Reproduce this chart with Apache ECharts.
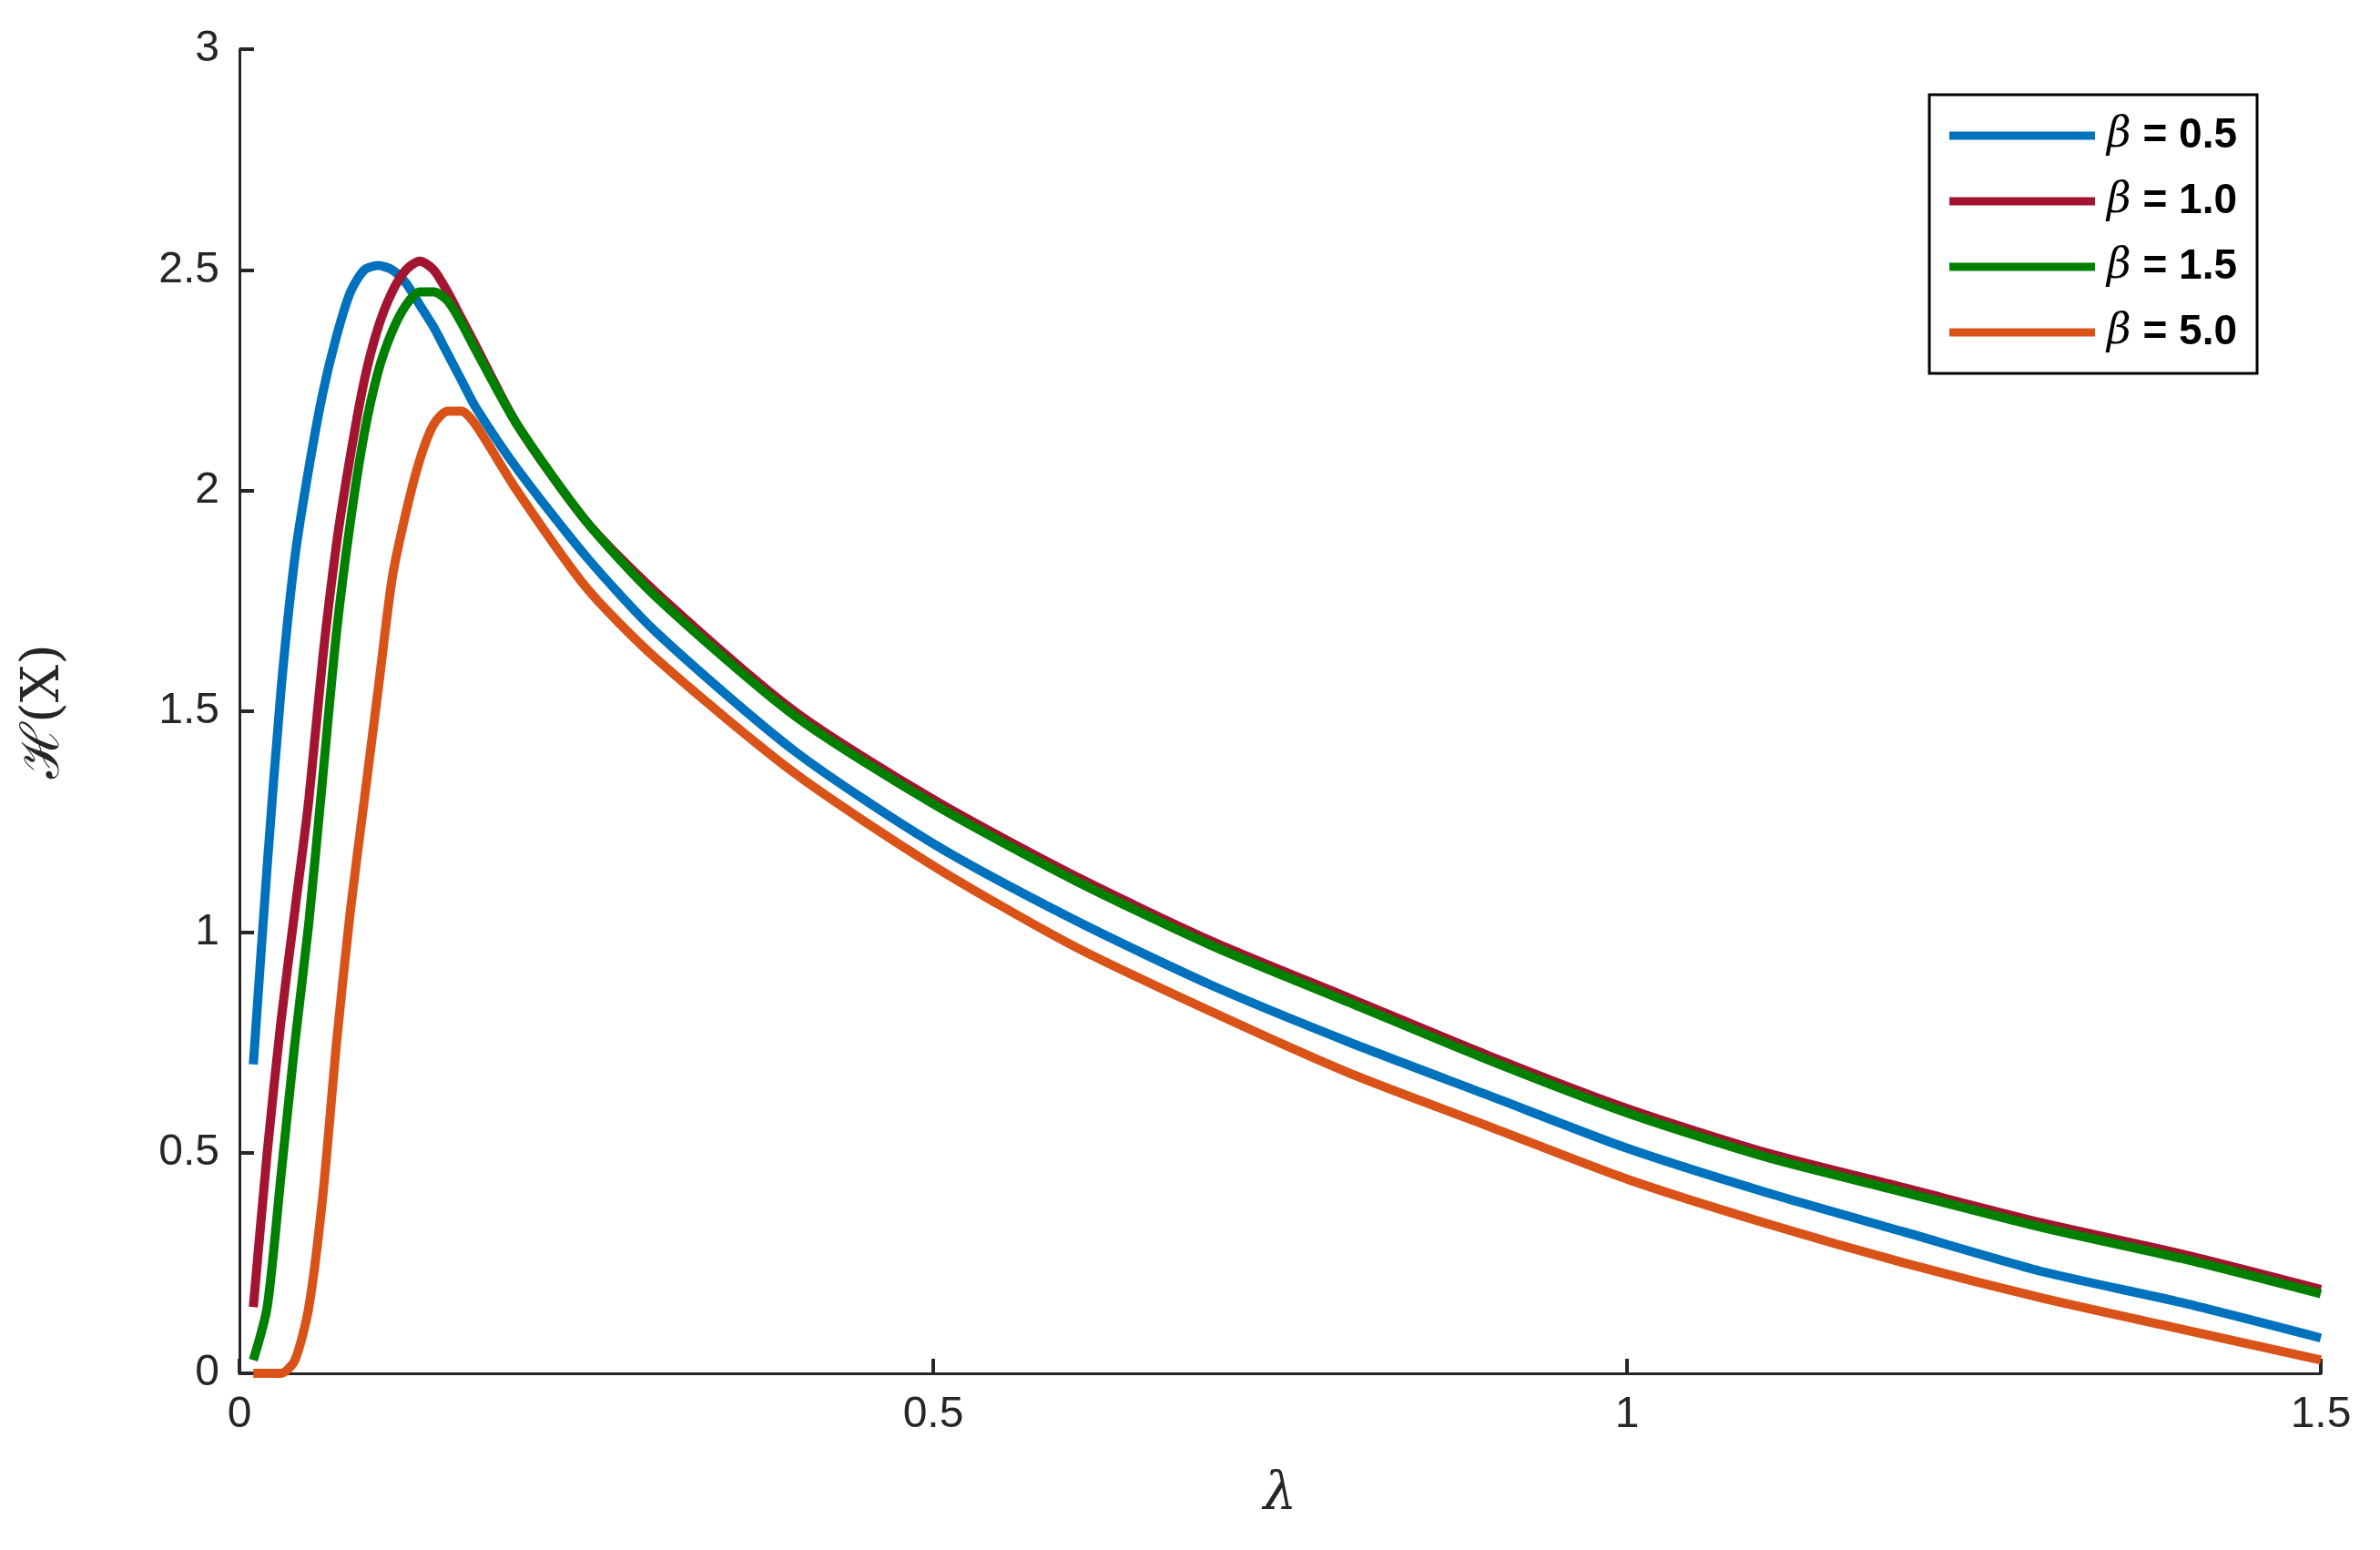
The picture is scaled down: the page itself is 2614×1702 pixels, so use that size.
<!DOCTYPE html>
<html>
<head>
<meta charset="utf-8">
<script src="https://cdn.jsdelivr.net/npm/echarts@6/dist/echarts.min.js"></script>
<style>html,body,#main{width:100%;height:100%;margin:0;background:#fff}</style>
</head>
<body>
<div id="main"></div>
<script>
var lambda = [0.01,0.02,0.03,0.04,0.05,0.06,0.07,0.08,0.09,0.10,0.11,0.12,0.13,0.14,0.15,0.16,0.17,0.2,0.25,0.3,0.4,0.5,0.6,0.7,0.8,0.9,1.0,1.1,1.2,1.3,1.4,1.5]
var beta05 = [0.7,1.15,1.55,1.85,2.05,2.22,2.35,2.45,2.5,2.51,2.5,2.47,2.42,2.37,2.31,2.25,2.19,2.05,1.85,1.68,1.41,1.2,1.03,0.88,0.75,0.63,0.51,0.41,0.32,0.23,0.16,0.08]
var beta10 = [0.15,0.5,0.8,1.05,1.3,1.62,1.88,2.08,2.25,2.37,2.45,2.5,2.52,2.5,2.45,2.39,2.33,2.15,1.93,1.77,1.5,1.3,1.13,0.98,0.85,0.72,0.6,0.5,0.42,0.34,0.27,0.19]
var beta15 = [0.03,0.15,0.45,0.75,1.02,1.35,1.68,1.93,2.13,2.27,2.36,2.42,2.45,2.45,2.43,2.38,2.32,2.15,1.93,1.76,1.49,1.29,1.12,0.97,0.84,0.71,0.59,0.49,0.41,0.33,0.26,0.18]
var beta50 = [0,0,0.0,0.03,0.15,0.4,0.75,1.05,1.3,1.55,1.8,1.95,2.07,2.15,2.18,2.18,2.15,2.0,1.78,1.62,1.36,1.15,0.97,0.82,0.68,0.56,0.44,0.34,0.25,0.17,0.1,0.03]
var names = ['0.5','1.0','1.5','5.0']
var colors = ['#0072BD','#A2142F','#008000','#D95319']
var sets = [beta05, beta10, beta15, beta50]

var chart = echarts.init(document.getElementById('main'))
var series = sets.map(function (s, i) {
  return {
    name: names[i], type: 'line', showSymbol: false, smooth: 0.25,
    lineStyle: { width: 10, color: colors[i] }, itemStyle: { color: colors[i] },
    data: lambda.map(function (x, j) { return [x, s[j]] })
  }
})
var axisLbl = { fontSize: 48, color: '#262626', fontFamily: 'Liberation Sans' }
chart.setOption({
  animation: false,
  grid: { left: 263, right: 65, top: 54, bottom: 194 },
  legend: {
    right: 135, top: 104, orient: 'vertical', itemWidth: 160, itemHeight: 9, itemGap: 26,
    padding: [22, 22, 22, 22], borderColor: '#000', borderWidth: 3, backgroundColor: '#fff',
    icon: 'rect',
    formatter: function (n) { return '{b|β}{v| = ' + n + '}' },
    textStyle: { rich: {
      b: { fontFamily: 'DejaVu Serif', fontStyle: 'italic', fontSize: 46, color: '#000', padding: [0, 0, 0, 8] },
      v: { fontFamily: 'Liberation Sans', fontWeight: 'bold', fontSize: 46, color: '#000' }
    } }
  },
  xAxis: {
    type: 'value', min: 0, max: 1.5, interval: 0.5,
    name: 'λ', nameLocation: 'middle', nameGap: 105,
    nameTextStyle: { fontSize: 58, fontStyle: 'italic', fontFamily: 'DejaVu Serif', color: '#262626' },
    axisLine: { lineStyle: { color: '#262626', width: 3 } },
    axisTick: { inside: true, length: 16, lineStyle: { width: 4 } },
    axisLabel: Object.assign({ margin: 22 }, axisLbl),
    splitLine: { show: false }
  },
  yAxis: {
    type: 'value', min: 0, max: 3, interval: 0.5,
    name: 'ℋ(X)', nameLocation: 'middle', nameGap: 185,
    nameTextStyle: { fontSize: 58, fontFamily: 'DejaVu Serif', color: '#262626' },
    axisLine: { show: true, lineStyle: { color: '#262626', width: 3 } },
    axisTick: { show: true, inside: true, length: 16, lineStyle: { width: 4 } },
    axisLabel: Object.assign({ margin: 22 }, axisLbl),
    splitLine: { show: false }
  },
  series: series
})
</script>
</body>
</html>
